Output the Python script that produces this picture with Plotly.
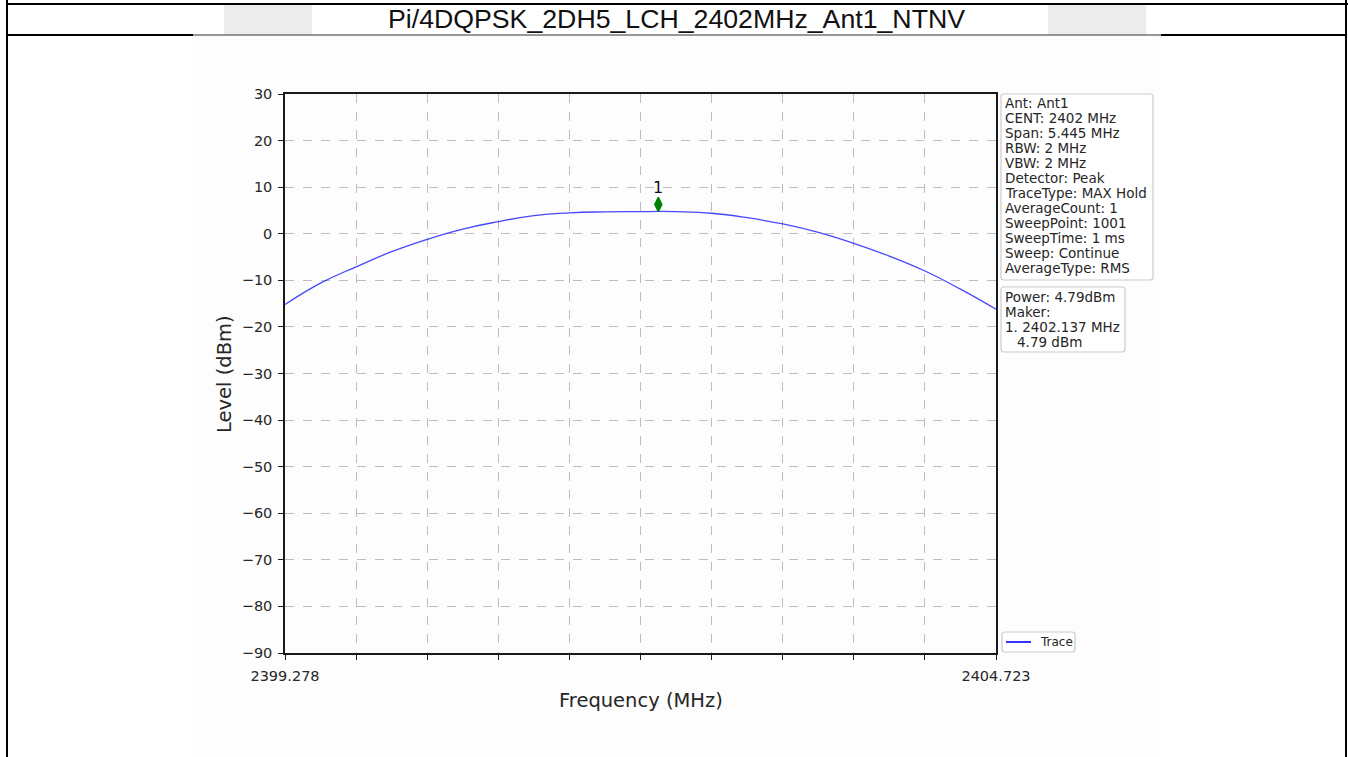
import plotly.graph_objects as go

# ---- measurement data -------------------------------------------------------
freq_mhz = [2399.278, 2399.550, 2399.823, 2400.095, 2400.367, 2400.639,
            2400.912, 2401.184, 2401.456, 2401.728, 2402.001, 2402.137,
            2402.273, 2402.545, 2402.817, 2403.090, 2403.362, 2403.634,
            2403.906, 2404.179, 2404.451, 2404.723]
level_dbm = [-15.2, -10.6, -7.1, -3.85, -1.2, 1.0,
             2.6, 3.9, 4.5, 4.7, 4.74, 4.79,
             4.74, 4.4, 3.45, 2.1, 0.3, -2.05,
             -4.8, -8.0, -11.9, -16.2]

peak_freq = 2402.137
peak_level = 4.79

x_tick_vals = [2399.278 + i * 0.5445 for i in range(11)]
x_tick_text = ["2399.278"] + [""] * 9 + ["2404.723"]
y_tick_vals = [-90, -80, -70, -60, -50, -40, -30, -20, -10, 0, 10, 20, 30]
y_tick_text = ["−90", "−80", "−70", "−60", "−50", "−40", "−30", "−20",
               "−10", "0", "10", "20", "30"]

title_text = "Pi/4DQPSK_2DH5_LCH_2402MHz_Ant1_NTNV"
setting_lines = ["Ant: Ant1", "CENT: 2402 MHz", "Span: 5.445 MHz", "RBW: 2 MHz",
                 "VBW: 2 MHz", "Detector: Peak", "TraceType: MAX Hold",
                 "AverageCount: 1", "SweepPoint: 1001", "SweepTime: 1 ms",
                 "Sweep: Continue", "AverageType: RMS"]

# ---- page geometry (pixels) -------------------------------------------------
W, H = 1348, 757
PL, PR, PT, PB = 285, 996, 94, 653   # plot area edges


def px(x):
    return (x - PL) / (PR - PL)


def py(y):
    return (PB - y) / (PB - PT)


FONT = "DejaVu Sans"
INK = "#262626"

fig = go.Figure()

fig.add_trace(go.Scatter(
    x=freq_mhz, y=level_dbm, mode="lines", name="Trace",
    line=dict(color="rgba(0,0,255,0.72)", width=1.3, shape="spline", smoothing=1.3),
    showlegend=False, hoverinfo="x+y"))

# marker 1 drawn slightly above the trace peak
marker_offset = 1.5
fig.add_trace(go.Scatter(
    x=[peak_freq], y=[peak_level + marker_offset], mode="markers",
    marker=dict(symbol="diamond-tall", size=10, color="#008000",
                line=dict(color="#008000", width=1.5)),
    showlegend=False, hoverinfo="skip"))

shapes = []
annotations = []

# embedded chart background
shapes.append(dict(type="rect", xref="paper", yref="paper", layer="below",
                   x0=px(193), x1=px(1161), y0=py(757), y1=py(35),
                   fillcolor="#fdfdfd", line=dict(width=0)))
# grey header patches
for a, b in [(224, 312), (1048, 1146)]:
    shapes.append(dict(type="rect", xref="paper", yref="paper", layer="below",
                       x0=px(a), x1=px(b), y0=py(35), y1=py(5),
                       fillcolor="#ececec", line=dict(width=0)))

# table frame
def hline(x0, x1, y, w, c="black"):
    shapes.append(dict(type="line", xref="paper", yref="paper",
                       x0=px(x0), x1=px(x1), y0=py(y), y1=py(y),
                       line=dict(color=c, width=w)))


def vline(x, y0, y1, w, c="black"):
    shapes.append(dict(type="line", xref="paper", yref="paper",
                       x0=px(x), x1=px(x), y0=py(y0), y1=py(y1),
                       line=dict(color=c, width=w)))


hline(6, 1348, 4, 2)
hline(6, 193, 35, 2)
hline(193, 1161, 35, 1, "#333333")
hline(1161, 1347, 35, 2)
vline(7, 0, 757, 2)
vline(1346, 0, 757, 2)

annotations.append(dict(text=title_text, xref="paper", yref="paper",
                        x=px(676), y=py(19), showarrow=False,
                        xanchor="center", yanchor="middle",
                        font=dict(family="Liberation Sans, Arial", size=26.7, color="#111111")))


def rounded_box(x0, y0, x1, y1, r=3):
    sx = 1.0 / (PR - PL)
    sy = 1.0 / (PB - PT)
    X0, X1 = px(x0), px(x1)
    Y0, Y1 = py(y1), py(y0)  # Y0 bottom, Y1 top
    rx, ry = r * sx, r * sy
    path = (f"M {X0+rx},{Y0} L {X1-rx},{Y0} Q {X1},{Y0} {X1},{Y0+ry} "
            f"L {X1},{Y1-ry} Q {X1},{Y1} {X1-rx},{Y1} L {X0+rx},{Y1} "
            f"Q {X0},{Y1} {X0},{Y1-ry} L {X0},{Y0+ry} Q {X0},{Y0} {X0+rx},{Y0} Z")
    shapes.append(dict(type="path", xref="paper", yref="paper", path=path,
                       fillcolor="rgba(255,255,255,0.85)",
                       line=dict(color="#cccccc", width=1.2)))


def text_line(s, x, y, size=13.5):
    annotations.append(dict(text=s, xref="paper", yref="paper", x=px(x), y=py(y),
                            showarrow=False, xanchor="left", yanchor="middle",
                            font=dict(family=FONT, size=size, color=INK)))


# instrument settings box
rounded_box(1001, 94, 1153, 280)
for i, s in enumerate(setting_lines):
    text_line(s, 1002.5, 103 + 15 * i)

# result box
rounded_box(1001, 287, 1125, 352)
text_line(f"Power: {peak_level:.2f}dBm", 1002.5, 297)
text_line("Maker:", 1002.5, 312)
text_line(f"1. {peak_freq:.3f} MHz", 1002.5, 327)
text_line(f"{peak_level:.2f} dBm", 1015, 342)

# legend
rounded_box(1002, 632, 1075, 652)
hline(1006, 1031, 642, 1.6, "#0000ff")
text_line("Trace", 1038, 642, size=12)

# marker label
annotations.append(dict(text="1", x=peak_freq, y=peak_level + marker_offset,
                        xref="x", yref="y", showarrow=False, yshift=17,
                        font=dict(family=FONT, size=16, color="#111111")))

# axis titles
annotations.append(dict(text="Level (dBm)", xref="paper", yref="paper",
                        x=px(224), y=py(374), textangle=-90, showarrow=False,
                        xanchor="center", yanchor="middle",
                        font=dict(family=FONT, size=19.5, color=INK)))
annotations.append(dict(text="Frequency (MHz)", xref="paper", yref="paper",
                        x=px(641), y=py(701), showarrow=False,
                        xanchor="center", yanchor="middle",
                        font=dict(family=FONT, size=19.5, color=INK)))

axis_common = dict(showline=True, mirror=True, linecolor="#1a1a1a", linewidth=1.5,
                   ticks="outside", ticklen=5, tickwidth=1.2, tickcolor="#1a1a1a",
                   showgrid=True, gridcolor="#bdbdbd", gridwidth=0.8, griddash="dash",
                   zeroline=False, tickfont=dict(family=FONT, size=14.5, color=INK))

fig.update_layout(
    width=W, height=H,
    margin=dict(l=PL, r=W - PR, t=PT, b=H - PB, pad=0),
    paper_bgcolor="white", plot_bgcolor="white",
    xaxis=dict(range=[2399.278, 2404.723], tickmode="array",
               tickvals=x_tick_vals, ticktext=x_tick_text, ticklabelstandoff=4,
               **axis_common),
    yaxis=dict(range=[-90, 30], tickmode="array",
               tickvals=y_tick_vals, ticktext=y_tick_text, ticklabelstandoff=3,
               **axis_common),
    shapes=shapes, annotations=annotations, showlegend=False,
)

fig.write_html("out.html")
